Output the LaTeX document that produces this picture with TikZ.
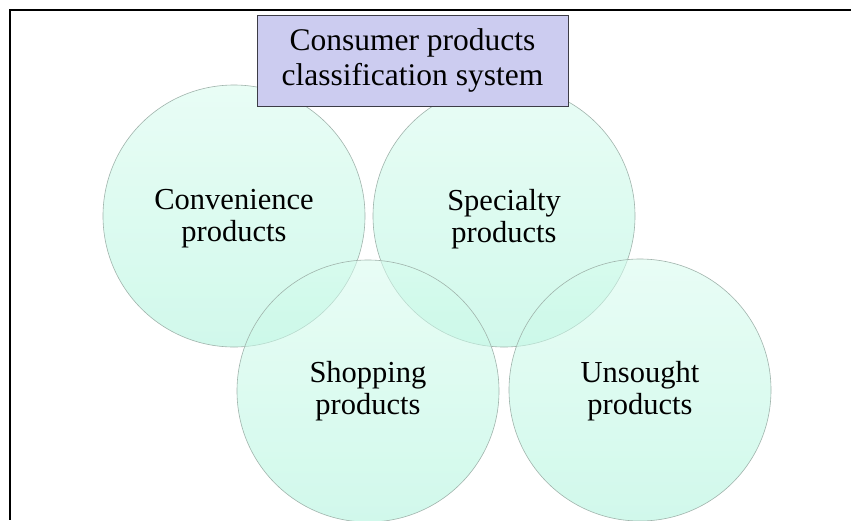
\documentclass[tikz,border=0pt]{standalone}
\usepackage{fontspec}
\setmainfont{Liberation Serif}
\begin{document}
\begin{tikzpicture}[x=1pt,y=-1pt,
  catcircle/.style={circle, minimum size=262pt, inner sep=0pt,
    draw={rgb,255:red,160;green,180;blue,172}, line width=0.6pt,
    top color={rgb,255:red,215;green,252;blue,238},
    bottom color={rgb,255:red,172;green,244;blue,220},
    fill opacity=0.55},
  catlabel/.style={align=center, inner sep=0pt,
    font=\fontsize{30.5}{32}\selectfont},
  titlebox/.style={draw={rgb,255:red,60;green,60;blue,70}, line width=0.8pt,
    fill={rgb,255:red,204;green,204;blue,240},
    minimum width=311pt, minimum height=91pt, inner sep=0pt, align=center,
    font=\fontsize{31.5}{35}\selectfont}]
  \useasboundingbox (0,0) rectangle (851,520);
  \fill[white] (0,0) rectangle (851,520);
  % frame along the top and left edges
  \draw[line width=2pt] (851,10) -- (10,10) -- (10,520);
  % the four product classes
  \node[catcircle] (conv) at (234,216) {};
  \node[catcircle] (spec) at (504,216) {};
  \node[catcircle] (shop) at (368,391) {};
  \node[catcircle] (unso) at (640,390) {};
  \node[catlabel] (convtxt) at ([yshift=-3pt]conv.center) {Convenience\\products};
  \node[catlabel] (spectxt) at ([yshift=-3pt]spec.center) {Specialty\\products};
  \node[catlabel] (shoptxt) at (shop.center) {Shopping\\products};
  \node[catlabel] (unsotxt) at ([yshift=-1pt]unso.center) {Unsought\\products};
  % heading
  \node[titlebox] (title) at (412.5,60.5) {Consumer products\\classification system};
\end{tikzpicture}
\end{document}
